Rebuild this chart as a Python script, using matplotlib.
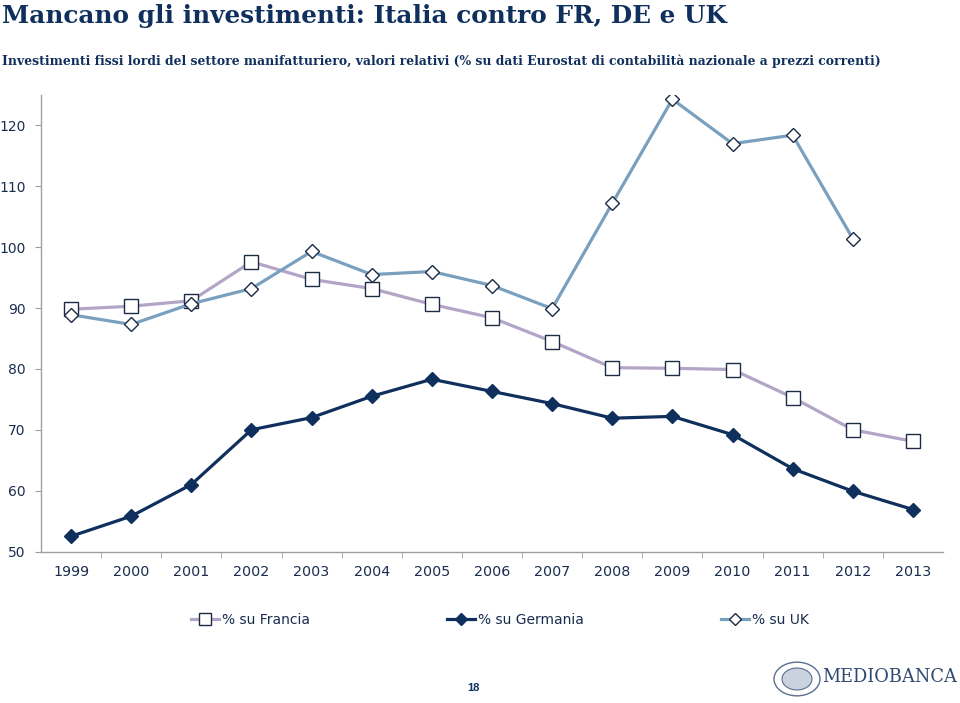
import matplotlib
matplotlib.use("Agg")
import matplotlib.pyplot as plt
from matplotlib.lines import Line2D
from matplotlib.patches import Circle

years = ["1999", "2000", "2001", "2002", "2003", "2004", "2005", "2006",
         "2007", "2008", "2009", "2010", "2011", "2012", "2013"]
francia = [89.8, 90.3, 91.2, 97.6, 94.7, 93.2, 90.6, 88.4, 84.5, 80.2, 80.1, 79.9, 75.3, 70.0, 68.1]
germania = [52.5, 55.8, 61.0, 70.0, 72.0, 75.5, 78.3, 76.3, 74.3, 71.9, 72.2, 69.2, 63.6, 59.9, 56.9]
uk = [88.9, 87.3, 90.7, 93.2, 99.3, 95.5, 96.0, 93.7, 89.9, 107.2, 124.3, 117.0, 118.4, 101.4, None]
labels = ["% su Francia", "% su Germania", "% su UK"]
yticks = [50, 60, 70, 80, 90, 100, 110, 120]

title = "Mancano gli investimenti: Italia contro FR, DE e UK"
subtitle = ("Investimenti fissi lordi del settore manifatturiero, valori relativi "
            "(% su dati Eurostat di contabilità nazionale a prezzi correnti)")

NAVY = "#0f2f5c"
TXT = "#1a2d4f"
C_FR = "#b3a5c8"
C_UK = "#7aa0bf"
EDGE = "#1c2a44"

W, H = 960, 703
fig = plt.figure(figsize=(W / 100, H / 100), dpi=100)

ax = fig.add_axes([41 / W, 1 - 551.5 / H, (943 - 41) / W, (551.5 - 95) / H])
x = list(range(len(years)))

uk_x = [i for i, v in zip(x, uk) if v is not None]
uk_y = [v for v in uk if v is not None]

l1, = ax.plot(x, francia, color=C_FR, lw=2.3, marker="s", ms=10, mfc="white",
              mec=EDGE, mew=1.0, zorder=3)
l2, = ax.plot(x, germania, color=NAVY, lw=2.3, marker="D", ms=7, mfc=NAVY,
              mec=NAVY, mew=1.0, zorder=3)
l3, = ax.plot(uk_x, uk_y, color=C_UK, lw=2.3, marker="D", ms=6.8, mfc="white",
              mec=EDGE, mew=1.0, zorder=4)

ax.set_xlim(-0.5, len(years) - 0.5)
ax.set_ylim(50, 125)
ax.set_yticks(yticks)
ax.set_yticklabels([str(v) for v in yticks])
ax.set_xticks(x)
ax.set_xticklabels(years)
ax.set_xticks([i + 0.5 for i in x[:-1]], minor=True)
ax.tick_params(axis="x", which="major", length=0, pad=10, labelsize=10.3, labelcolor=TXT)
ax.tick_params(axis="x", which="minor", length=4, color="#a0a0a0", direction="out")
ax.tick_params(axis="y", length=4, color="#a0a0a0", labelsize=10, labelcolor=TXT, pad=7)
for s in ["top", "right"]:
    ax.spines[s].set_visible(False)
for s in ["left", "bottom"]:
    ax.spines[s].set_color("#a0a0a0")
    ax.spines[s].set_linewidth(1.0)

# Title and subtitle
t1 = fig.text(2 / W, 1 - 16 / H, title, family="DejaVu Serif", weight="bold",
              color=NAVY, fontsize=19, va="center", ha="left")
t2 = fig.text(2 / W, 1 - 61 / H, subtitle, family="DejaVu Serif", weight="bold",
              color=NAVY, fontsize=9.5, va="center", ha="left")
fig.canvas.draw()
r = fig.canvas.get_renderer()
for t, target in [(t1, 726), (t2, 880)]:
    w = t.get_window_extent(r).width
    t.set_fontsize(t.get_fontsize() * target / w)

# Legend
handles = [
    Line2D([], [], color=C_FR, lw=2.3, marker="s", ms=9, mfc="white", mec=EDGE, mew=1.0),
    Line2D([], [], color=NAVY, lw=2.3, marker="D", ms=6.5, mfc=NAVY, mec=NAVY),
    Line2D([], [], color=C_UK, lw=2.3, marker="D", ms=6.5, mfc="white", mec=EDGE, mew=1.0),
]
leg = fig.legend(handles, labels, ncol=3, loc="center", bbox_to_anchor=(500 / W, 1 - 620 / H),
                 frameon=False, fontsize=10, handlelength=2.0, handletextpad=0.2,
                 columnspacing=9.9, labelcolor=TXT)

# Page number
fig.text(473 / W, 1 - 688 / H, "18", fontsize=8, weight="bold", color=NAVY,
         ha="center", va="center", family="Liberation Sans")

# Logo
fig.patches.append(Circle((797 / W, 1 - 679 / H), 23 / W, transform=fig.transFigure,
                          fill=False, ec="#5a6f8c", lw=1.0))
fig.patches.append(Circle((797 / W, 1 - 679 / H), 15 / W, transform=fig.transFigure,
                          fill=True, fc="#c9d2de", ec="#5a6f8c", lw=0.8))
t3 = fig.text(822 / W, 1 - 677 / H, "MEDIOBANCA", family="DejaVu Serif", fontsize=12,
              color="#2f4a70", ha="left", va="center")
fig.canvas.draw()
t3.set_fontsize(t3.get_fontsize() * 135 / t3.get_window_extent(r).width)

fig.savefig("out.png", dpi=100)
